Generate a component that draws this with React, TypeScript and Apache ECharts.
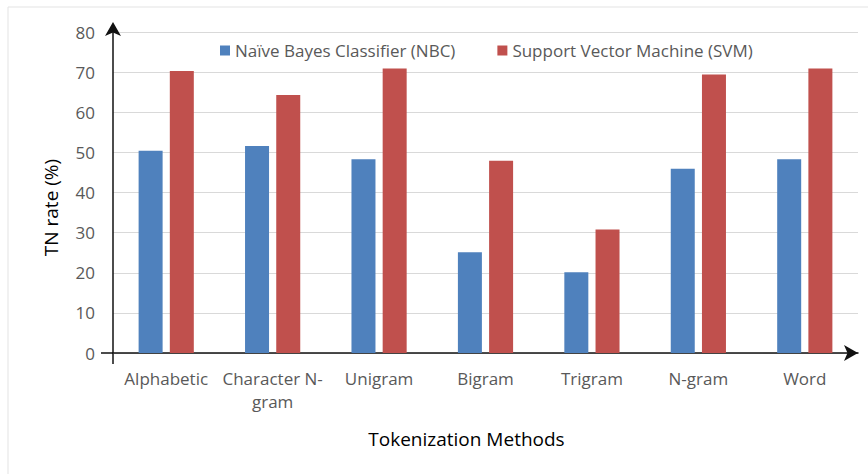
import React, { useEffect, useRef } from "react";
import * as echarts from "echarts";

const categories = ["Alphabetic", "Character N-\ngram", "Unigram", "Bigram", "Trigram", "N-gram", "Word"];
const nbcValues = [50.4, 51.6, 48.3, 25.1, 20.1, 45.9, 48.3];
const svmValues = [70.3, 64.3, 70.9, 47.9, 30.8, 69.4, 70.9];
const seriesNames = ["Naïve Bayes Classifier (NBC)", "Support Vector Machine (SVM)"];
const yTicks = { min: 0, max: 80, interval: 10 };

const FONT = "Open Sans";

export default function App() {
  const ref = useRef<HTMLDivElement>(null);
  useEffect(() => {
    if (!ref.current) return;
    const chart = echarts.init(ref.current, null, { renderer: "svg" });
    chart.setOption({
      animation: false,
      backgroundColor: "#ffffff",
      textStyle: { fontFamily: FONT },
      grid: { left: 113, right: 10, top: 32, bottom: 121, containLabel: false },
      legend: {
        left: 220,
        top: 42,
        padding: 0,
        itemWidth: 10,
        itemHeight: 10,
        itemGap: 42,
        icon: "rect",
        textStyle: { fontSize: 17, color: "#595959", fontFamily: FONT },
        data: seriesNames,
      },
      xAxis: {
        type: "category",
        data: categories,
        name: "Tokenization Methods",
        nameLocation: "middle",
        nameGap: 76,
        nameTextStyle: { fontSize: 19, color: "#000", fontFamily: FONT, padding: [0, 38, 0, 0] },
        axisLine: {
          lineStyle: { color: "#111", width: 1.5 },
          symbol: ["none", "arrow"],
          symbolSize: [12, 14],
          symbolOffset: [0, 0],
        },
        axisTick: { show: false },
        axisLabel: { fontSize: 17, color: "#595959", margin: 14, lineHeight: 23, interval: 0, fontFamily: FONT },
        splitLine: { show: false },
      },
      yAxis: {
        type: "value",
        min: yTicks.min,
        max: yTicks.max,
        interval: yTicks.interval,
        name: "TN rate (%)",
        nameLocation: "middle",
        nameGap: 53,
        nameTextStyle: { fontSize: 19, color: "#000", fontFamily: FONT, padding: [0, 30, 0, 0] },
        axisLine: {
          show: true,
          lineStyle: { color: "#111", width: 1.5 },
          symbol: ["none", "arrow"],
          symbolSize: [12, 14],
          symbolOffset: [0, 10],
        },
        axisTick: { show: false },
        axisLabel: { fontSize: 17, color: "#595959", margin: 18, fontFamily: FONT },
        splitLine: { lineStyle: { color: "#D9D9D9", width: 1 } },
      },
      graphic: [
        { type: "rect", shape: { x: 8, y: 7, width: 870, height: 480 }, style: { fill: "none", stroke: "#E3E3E3", lineWidth: 1 }, silent: true },
        { type: "line", shape: { x1: 101, y1: 353, x2: 113, y2: 353 }, style: { stroke: "#111", lineWidth: 1.5 }, silent: true },
        { type: "line", shape: { x1: 113, y1: 353, x2: 113, y2: 364 }, style: { stroke: "#111", lineWidth: 1.5 }, silent: true },
      ],
      series: [
        { name: seriesNames[0], type: "bar", data: nbcValues, barWidth: 24, barGap: "30%", itemStyle: { color: "#4F81BD" } },
        { name: seriesNames[1], type: "bar", data: svmValues, barWidth: 24, barGap: "30%", itemStyle: { color: "#C0504D" } },
      ],
    });
    return () => chart.dispose();
  }, []);
  return <div ref={ref} style={{ position: "fixed", left: 0, top: 0, width: 868, height: 474 }} />;
}
